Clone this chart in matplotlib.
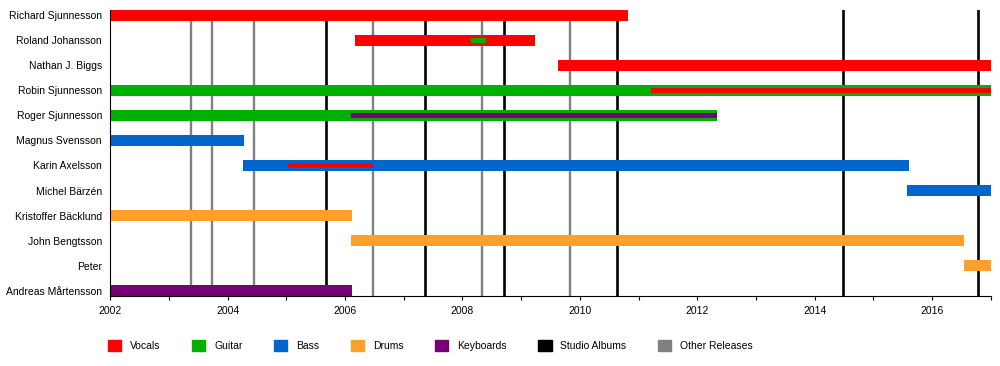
import matplotlib
matplotlib.use("Agg")
import matplotlib.pyplot as plt
from matplotlib.patches import Patch

plt.rcParams["font.family"] = ["Liberation Sans", "DejaVu Sans"]
plt.rcParams["font.size"] = 7.5

# members, top to bottom
members = ["Richard Sjunnesson", "Roland Johansson", "Nathan J. Biggs",
           "Robin Sjunnesson", "Roger Sjunnesson", "Magnus Svensson",
           "Karin Axelsson", "Michel Bärzén", "Kristoffer Bäcklund",
           "John Bengtsson", "Peter", "Andreas Mårtensson"]

# main bar per member
main_role = ["Vocals", "Vocals", "Vocals", "Guitar", "Guitar", "Bass",
             "Bass", "Bass", "Drums", "Drums", "Drums", "Keyboards"]
main_start = [2002.0, 2006.17, 2009.63, 2002.0, 2002.0, 2002.0,
              2004.26, 2015.58, 2002.0, 2006.10, 2016.55, 2002.0]
main_end = [2010.82, 2009.24, 2017.0, 2017.0, 2012.34, 2004.28,
            2015.60, 2017.0, 2006.12, 2016.55, 2017.0, 2006.12]

# second (thin) roles
extra_member = ["Roland Johansson", "Robin Sjunnesson", "Roger Sjunnesson", "Karin Axelsson"]
extra_role = ["Guitar", "Vocals", "Keyboards", "Vocals"]
extra_start = [2008.15, 2011.22, 2006.10, 2005.02]
extra_end = [2008.40, 2017.0, 2012.34, 2006.48]

studio_albums = [2005.68, 2007.37, 2008.70, 2010.64, 2014.49, 2016.78]
other_releases = [2003.38, 2003.74, 2004.44, 2006.48, 2008.34, 2009.84]

colors = {"Vocals": "#ff0000", "Guitar": "#00b000", "Bass": "#0066cc",
          "Drums": "#ffa028", "Keyboards": "#770077"}

fig = plt.figure(figsize=(10, 3.66), dpi=100)
ax = fig.add_axes([0.1103, 0.1913, 0.8804, 0.7814])

for x in other_releases:
    ax.axvline(x, color="#808080", lw=1.7, zorder=1)
for x in studio_albums:
    ax.axvline(x, color="black", lw=1.9, zorder=1)

ypos = {m: i for i, m in enumerate(members)}
for m, r, s, e in zip(members, main_role, main_start, main_end):
    ax.barh(ypos[m], e - s, left=s, height=0.43, color=colors[r], zorder=2)
for m, r, s, e in zip(extra_member, extra_role, extra_start, extra_end):
    ax.barh(ypos[m], e - s, left=s, height=0.17, color=colors[r], zorder=3)

ax.set_xlim(2002, 2017)
ax.set_ylim(len(members) - 1 + 0.215, -0.215)
ax.set_yticks(range(len(members)))
ax.set_yticklabels(members)
ax.tick_params(axis="y", length=0, pad=6)
ax.set_xticks(range(2002, 2017, 2))
ax.set_xticks(range(2003, 2018, 2), minor=True)
ax.tick_params(axis="x", which="both", length=3, width=0.8, pad=4)
for s in ["top", "right"]:
    ax.spines[s].set_visible(False)

handles = [Patch(color=colors[k], label=k) for k in colors]
handles.append(Patch(color="black", label="Studio Albums"))
handles.append(Patch(color="#808080", label="Other Releases"))
fig.legend(handles=handles, loc="center left", bbox_to_anchor=(0.108, 0.055),
           ncol=7, frameon=False, handlelength=1.25, handleheight=1.25,
           handletextpad=0.85, columnspacing=3.05, borderpad=0, borderaxespad=0)

fig.savefig("out.png", dpi=100)
